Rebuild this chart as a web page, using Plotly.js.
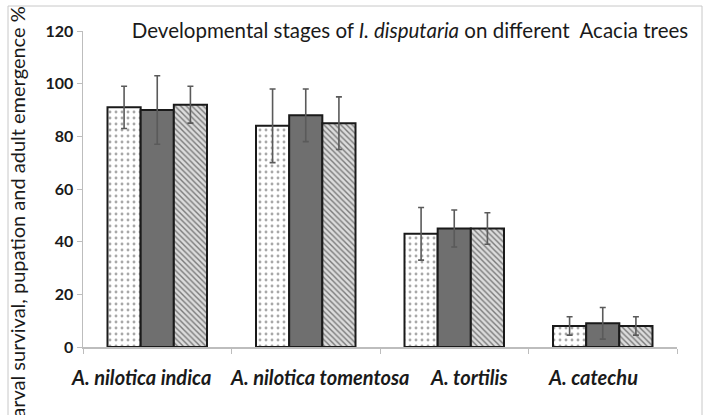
<!DOCTYPE html>
<html>
<head>
<meta charset="utf-8">
<script src="https://cdn.plot.ly/plotly-3.0.1.min.js"></script>
<style>html,body{margin:0;padding:0;background:#fff;}#chart{width:703px;height:415px;}</style>
</head>
<body>
<div id="chart"></div>
<script>
const categories = ["A. nilotica indica", "A. nilotica tomentosa", "A. tortilis", "A. catechu"];
const larvalSurvival = [91, 84, 43, 8];
const larvalErr = [8, 14, 10, 3.5];
const pupation = [90, 88, 45, 9];
const pupationErr = [13, 10, 7, 6];
const adultEmergence = [92, 85, 45, 8];
const adultErr = [7, 10, 6, 3.5];
const yTicks = [0, 20, 40, 60, 80, 100, 120];
const labelShifts = [-16, 14, 15, -10];

const errStyle = {type: 'data', visible: true, color: '#5a5a5a', thickness: 1.6, width: 3};
const outline = {color: '#1a1a1a', width: 2};

const traces = [
  {type: 'bar', name: 'Larval survival', x: categories, y: larvalSurvival,
   error_y: Object.assign({array: larvalErr}, errStyle),
   marker: {color: '#ffffff', line: outline,
     pattern: {shape: '.', fgcolor: '#a8a8a8', bgcolor: '#ffffff', size: 6, solidity: 0.18}}},
  {type: 'bar', name: 'Pupation', x: categories, y: pupation,
   error_y: Object.assign({array: pupationErr}, errStyle),
   marker: {color: '#6f6f6f', line: outline}},
  {type: 'bar', name: 'Adult emergence', x: categories, y: adultEmergence,
   error_y: Object.assign({array: adultErr}, errStyle),
   marker: {color: '#d0d0d0', line: outline,
     pattern: {shape: '\\', fgcolor: '#7a7a7a', bgcolor: '#dcdcdc', size: 4, solidity: 0.35}}}
];

const catAnnotations = categories.map((c, i) => ({
  text: '<b><i>' + c + '</i></b>', xref: 'x', yref: 'paper', x: c, y: (347 - 377)/316,
  xshift: labelShifts[i], xanchor: 'center', yanchor: 'middle', showarrow: false,
  font: {family: 'Lato, sans-serif', size: 20, color: '#1a1a1a'}
}));

const layout = {
  width: 703, height: 415,
  margin: {l: 83, r: 26, t: 31, b: 68},
  paper_bgcolor: '#ffffff', plot_bgcolor: '#ffffff',
  showlegend: false,
  barmode: 'group', bargap: 0.33, bargroupgap: 0,
  font: {family: 'Lato, "Open Sans", sans-serif', color: '#1a1a1a'},
  title: {text: 'Developmental stages of <i>I. disputaria</i> on different  Acacia trees',
    xref: 'container', yref: 'container', x: 410/703, xanchor: 'center', y: 1 - 31/415, yanchor: 'middle',
    font: {family: 'Lato, sans-serif', size: 20.5, color: '#1a1a1a'}},
  xaxis: {type: 'category', range: [-0.5, categories.length - 0.5], autorange: false,
    showline: true, linecolor: '#bdbdbd', linewidth: 1.5, ticks: 'outside', tickson: 'boundaries',
    ticklen: 5, tickcolor: '#bdbdbd', showgrid: false, zeroline: false, showticklabels: false},
  yaxis: {range: [0, 120], autorange: false, tickvals: yTicks, showline: true, linecolor: '#bdbdbd', linewidth: 1.5,
    ticks: 'outside', ticklen: 5, tickcolor: '#bdbdbd', showgrid: false, zeroline: false,
    tickfont: {family: 'Lato, sans-serif', size: 16, color: '#1a1a1a', weight: 'bold'}},
  annotations: [{text: 'Larval survival, pupation and adult emergence %', textangle: -90,
    xref: 'paper', yref: 'paper', x: (17 - 83)/594, y: (347 - 217)/316, xanchor: 'center', yanchor: 'middle',
    showarrow: false, font: {family: 'Lato, sans-serif', size: 20, color: '#1a1a1a'}}].concat(catAnnotations),
  shapes: [{type: 'rect', xref: 'paper', yref: 'paper', x0: (8 - 83)/594, x1: (702 - 83)/594,
    y0: (347 - 420)/316, y1: (347 - 6)/316, line: {color: '#c8c8c8', width: 1}, layer: 'below'}]
};

Plotly.newPlot('chart', traces, layout, {staticPlot: true, displayModeBar: false});
</script>
</body>
</html>
